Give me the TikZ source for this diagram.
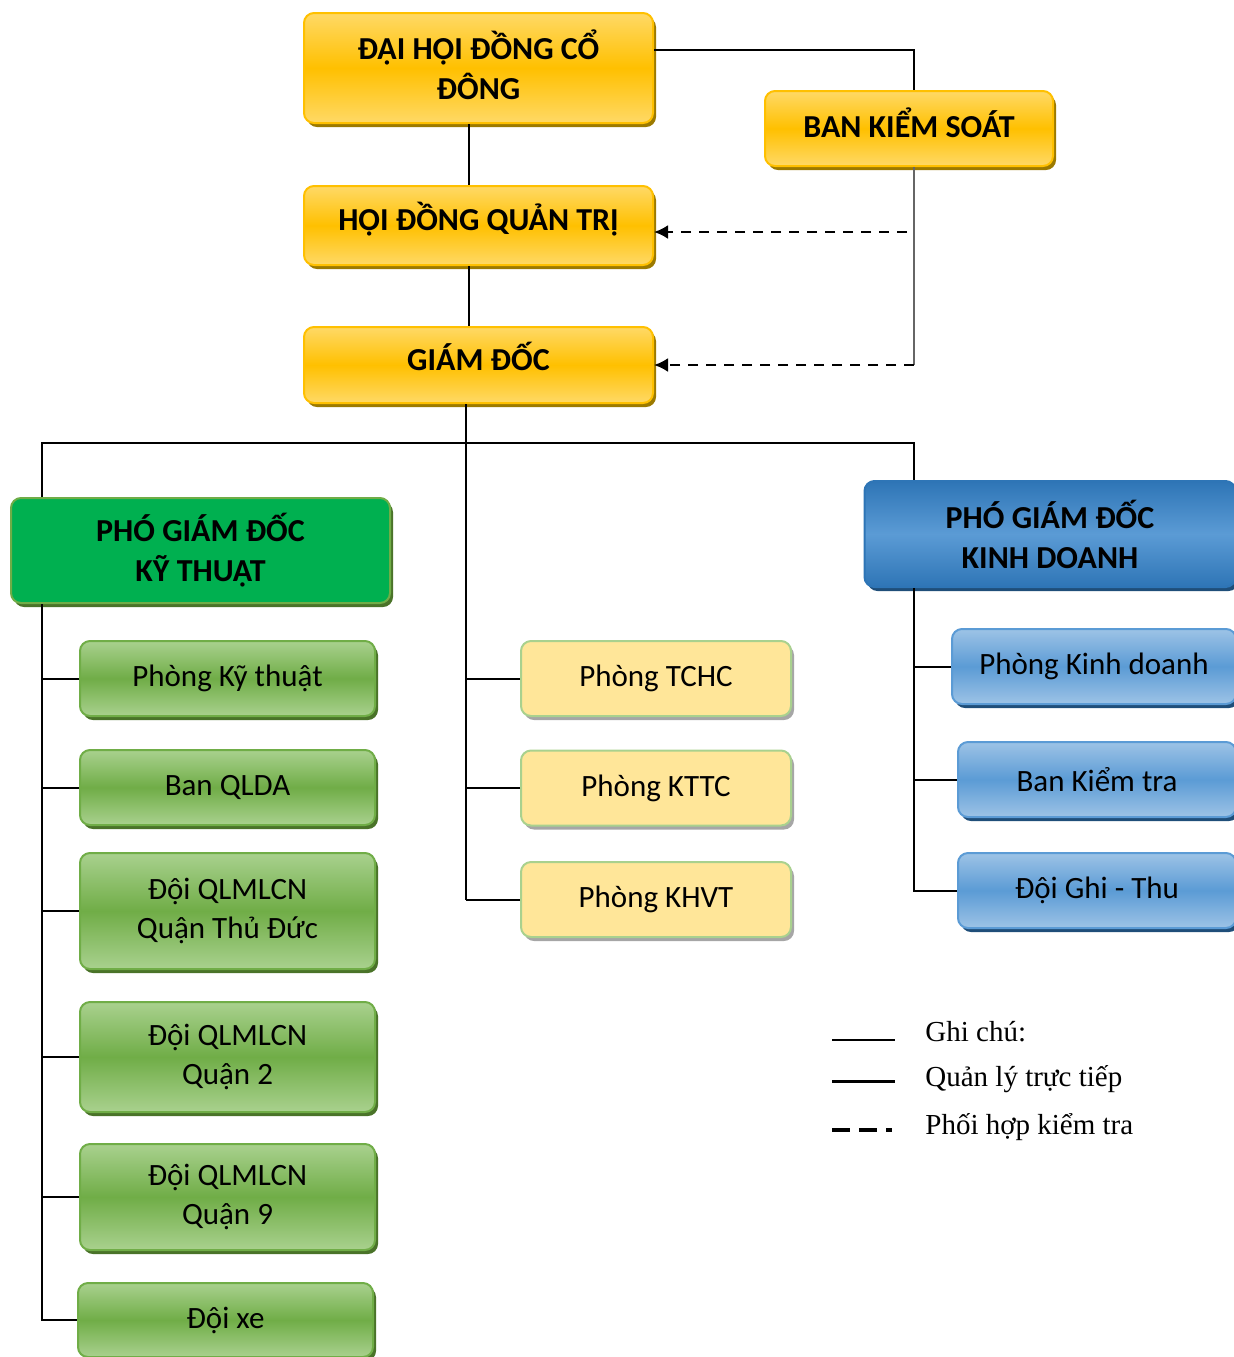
\documentclass[tikz,border=0pt]{standalone}
\usepackage{fontspec}
\setmainfont{Carlito}
\newfontfamily\legfont{Liberation Serif}
\usetikzlibrary{arrows.meta,positioning,shadows,calc}
\definecolor{yelhi}{HTML}{FFD966}
\definecolor{yelmid}{HTML}{FFC000}
\definecolor{yelsh}{HTML}{9C7A00}
\definecolor{grnfill}{HTML}{00B050}
\definecolor{grnhi}{HTML}{A9D18E}
\definecolor{grnmid}{HTML}{70AD47}
\definecolor{grnsh}{HTML}{4A7329}
\definecolor{bluhi}{HTML}{9DC3E6}
\definecolor{blumid}{HTML}{5B9BD5}
\definecolor{bludk}{HTML}{2E75B6}
\definecolor{blush}{HTML}{1F4E79}
\definecolor{pale}{HTML}{FFE699}
\tikzset{
	box/.style={draw, rounded corners=5pt, line width=1pt, align=center, inner sep=2pt,
		font=\fontsize{15.5}{19.5}\selectfont},
	head/.style={box, font=\fontsize{16}{20}\selectfont\bfseries},
	yelbox/.style={head, draw=yelmid, top color=yelhi, bottom color=yelhi, middle color=yelmid,
		minimum width=174.5pt,
		drop shadow={shadow xshift=1.5pt, shadow yshift=-2pt, fill=yelsh, opacity=1}},
	oneline/.style={text height=10pt, text depth=5pt},
	ktbox/.style={head, draw=grnmid, fill=grnfill,
		drop shadow={shadow xshift=1.5pt, shadow yshift=-2pt, fill=grnsh, opacity=1}},
	kdbox/.style={head, draw=bludk, top color=bludk, bottom color=bludk, middle color=blumid,
		drop shadow={shadow xshift=1.5pt, shadow yshift=-2pt, fill=blush, opacity=1}},
	grnbox/.style={box, draw=grnmid, top color=grnhi, bottom color=grnhi, middle color=grnmid,
		minimum width=147.5pt,
		drop shadow={shadow xshift=1.5pt, shadow yshift=-2pt, fill=grnsh, opacity=1}},
	palebox/.style={box, draw=grnhi, fill=pale, minimum width=135pt, minimum height=37.5pt,
		drop shadow={shadow xshift=1.5pt, shadow yshift=-2pt, fill=black!35, opacity=1}},
	blubox/.style={box, draw=blumid, top color=bluhi, bottom color=bluhi, middle color=blumid,
		minimum height=37.5pt,
		drop shadow={shadow xshift=1.5pt, shadow yshift=-2pt, fill=blush, opacity=1}},
	conn/.style={line width=1pt},
	dsh/.style={line width=1.2pt, dash pattern=on 5pt off 4pt, -{Latex[length=7pt,width=7pt]}},
	leg/.style={anchor=west, inner sep=0pt, font=\legfont\fontsize{14.5}{17}\selectfont}
}

\begin{document}
\begin{tikzpicture}[x=0.5pt,y=-0.5pt]
	\path[use as bounding box] (0,0) rectangle (1234,1357);
	\clip (0,0) rectangle (1234,1357);
	\node[yelbox, minimum height=55pt] (dh) at (478.5,68) {ĐẠI HỘI ĐỒNG CỔ\\ĐÔNG\rule[-3.5pt]{0pt}{3.5pt}};
	\node[yelbox, oneline, text depth=1pt, minimum width=144pt, minimum height=37.5pt] (bks) at (909,128.5) {BAN KIỂM SOÁT};
	\node[yelbox, oneline, minimum height=39.5pt] (hd) at (478.5,225.5) {HỘI ĐỒNG QUẢN TRỊ};
	\node[yelbox, oneline, minimum height=38pt] (gd) at (478.5,365) {GIÁM ĐỐC};
	\node[ktbox, minimum width=189.5pt, minimum height=52.5pt] (pkt) at (200.5,550.5) {PHÓ GIÁM ĐỐC\\KỸ THUẬT};
	\node[kdbox, minimum width=185.5pt, minimum height=53pt] (pkd) at (1050,534) {PHÓ GIÁM ĐỐC\\KINH DOANH};
	\node[grnbox, minimum height=37.5pt] (p1) at (227.5,678.5) {Phòng Kỹ thuật};
	\node[grnbox, minimum height=37.5pt] (p2) at (227.5,787.5) {Ban QLDA};
	\node[grnbox, minimum height=58pt] (p3) at (227.5,911) {Đội QLMLCN\\Quận Thủ Đức};
	\node[grnbox, minimum height=55pt] (p4) at (227.5,1057) {Đội QLMLCN\\Quận 2};
	\node[grnbox, minimum height=53pt] (p5) at (227.5,1197) {Đội QLMLCN\\Quận 9};
	\node[grnbox, minimum height=37pt] (p6) at (225.5,1320) {Đội xe};
	\node[palebox] (c1) at (656,678.5) {Phòng TCHC};
	\node[palebox] (c2) at (656,788) {Phòng KTTC};
	\node[palebox] (c3) at (656,899.5) {Phòng KHVT};
	\node[blubox, minimum width=142pt] (r1) at (1094,666.5) {Phòng Kinh doanh};
	\node[blubox, minimum width=139pt] (r2) at (1097,779.5) {Ban Kiểm tra};
	\node[blubox, minimum width=139pt] (r3) at (1097,890.5) {Đội Ghi - Thu};

	\coordinate (tl) at (42,443);
	\coordinate (tm) at (466,443);
	\coordinate (tr) at (914,443);

	\draw[conn] ([yshift=9pt]dh.east) -| ([xshift=2.5pt]bks.north);
	\draw[conn] ([xshift=-4.75pt]dh.south) -- ([xshift=-4.75pt]hd.north);
	\draw[conn] ([xshift=-4.75pt]hd.south) -- ([xshift=-4.75pt]gd.north);
	\draw[line width=0.6pt, black!60] (bks.south -| tr) -- (tr |- gd.east);
	\draw[dsh] ($(hd.east -| tr)+(-7,6.5)$) -- ($(hd.east)+(0,6.5)$);
	\draw[dsh] (tr |- gd.east) -- (gd.east);
	\draw[conn] (gd.south -| tm) -- (tm |- c3.west);
	\draw[conn] (pkt.north -| tl) |- (tr) -- (pkd.north -| tr);
	\draw[conn] (pkt.south -| tl) |- (p6.west);
	\foreach \n in {p1,p2,p3,p4,p5}
		\draw[conn] (\n.west) -- (\n.west -| tl);
	\foreach \n in {c1,c2}
		\draw[conn] (\n.west) -- (\n.west -| tm);
	\draw[conn] (c3.west) -- (tm |- c3.west);
	\draw[conn] (pkd.south -| tr) |- (r3.west);
	\foreach \n in {r1,r2}
		\draw[conn] (\n.west) -- (\n.west -| tr);

	\node[leg] (g1) at (925,1032) {Ghi chú:};
	\node[leg] (g2) at (925,1079) {Quản lý trực tiếp};
	\node[leg] (g3) at (925,1127) {Phối hợp kiểm tra};
	\draw[line width=0.6pt] (832,1040) -- (895,1040);
	\draw[line width=1.5pt] (832,1081) -- (895,1081);
	\draw[line width=1.6pt, dash pattern=on 9pt off 4.5pt] (832,1130) -- (892,1130);
\end{tikzpicture}
\end{document}
